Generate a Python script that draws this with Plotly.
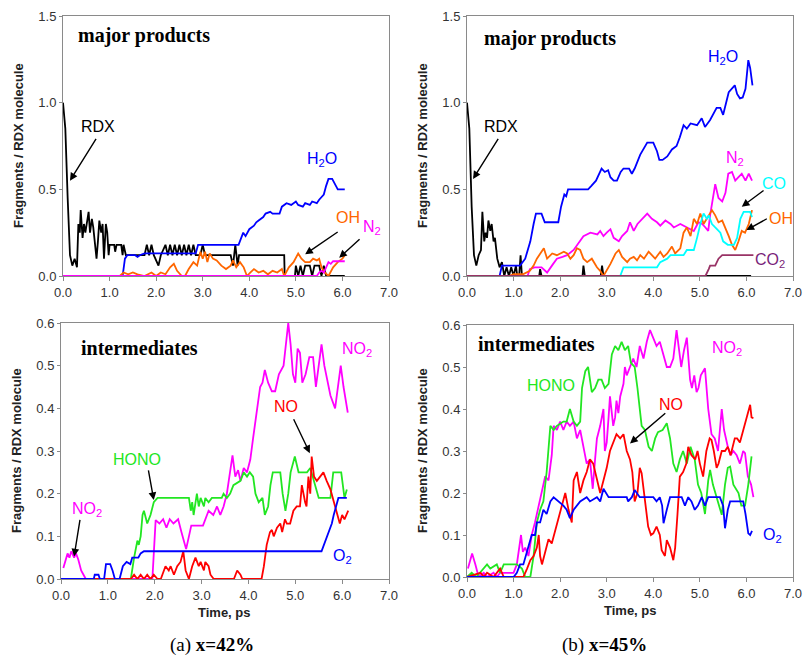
import plotly.graph_objects as go

# ---------------- data: (time ps, fragments / RDX molecule) ----------------
# panel (a) x=42%, major products
a_rdx = [(0,1.0),(0.05,0.85),(0.1,0.45),(0.15,0.12),(0.2,0.06),(0.25,0.1),(0.3,0.05),(0.33,0.3),(0.36,0.25),
         (0.38,0.38),(0.42,0.22),(0.45,0.3),(0.48,0.25),(0.52,0.32),(0.55,0.37),(0.58,0.25),(0.62,0.33),(0.65,0.28),
         (0.7,0.15),(0.72,0.1),(0.75,0.2),(0.78,0.32),(0.82,0.25),(0.85,0.3),(0.88,0.1),(0.92,0.3),(0.95,0.25),
         (0.98,0.12),(1.0,0.18),(1.1,0.18),(1.12,0.14),(1.15,0.18),(1.25,0.18),(1.28,0.12),(1.3,0.18),(1.35,0.12),
         (1.75,0.12),(1.8,0.18),(1.85,0.12),(1.9,0.18),(1.95,0.12),(2.05,0.06),(2.1,0.12),(2.2,0.18),(2.25,0.12),
         (2.3,0.18),(2.35,0.12),(2.4,0.18),(2.45,0.12),(2.5,0.18),(2.55,0.12),(2.6,0.18),(2.65,0.12),(2.7,0.18),
         (2.75,0.12),(2.8,0.18),(2.85,0.12),(2.95,0.12),(3.0,0.18),(3.05,0.12),(3.6,0.12),(3.65,0.06),(3.7,0.18),
         (3.75,0.06),(3.78,0.12),(4.75,0.12),(4.76,0.0),(4.98,0.0),(5.0,0.06),(5.05,0.0),(5.1,0.06),(5.15,0.0),
         (5.2,0.06),(5.3,0.06),(5.35,0.0),(5.4,0.06),(5.5,0.06),(5.55,0.0),(5.6,0.06),(5.65,0.0),(6.05,0.0)]
a_h2o = [(0,0),(1.28,0),(1.33,0.1),(1.38,0.12),(1.55,0.12),(1.6,0.11),(1.65,0.12),(1.75,0.13),(2.85,0.13),(2.9,0.18),
         (3.77,0.18),(3.82,0.22),(3.87,0.25),(3.92,0.23),(4.0,0.27),(4.1,0.29),(4.15,0.31),(4.2,0.32),(4.3,0.34),
         (4.35,0.36),(4.45,0.37),(4.5,0.36),(4.65,0.36),(4.7,0.4),(4.8,0.42),(4.9,0.41),(5.0,0.43),(5.05,0.41),
         (5.15,0.4),(5.2,0.42),(5.3,0.41),(5.35,0.43),(5.45,0.42),(5.5,0.44),(5.6,0.47),(5.65,0.52),(5.7,0.56),
         (5.78,0.56),(5.85,0.52),(5.9,0.5),(6.05,0.5)]
a_oh = [(0,0),(1.22,0),(1.3,0.02),(1.4,0.01),(1.5,0.02),(1.6,0.01),(1.75,0.0),(1.9,0.02),(2.0,0.0),(2.1,0.02),
        (2.2,0.01),(2.3,0.05),(2.38,0.07),(2.45,0.03),(2.55,0.0),(2.62,0.0),(2.7,0.04),(2.8,0.08),(2.88,0.06),
        (2.95,0.14),(3.0,0.1),(3.05,0.14),(3.1,0.08),(3.15,0.13),(3.22,0.1),(3.3,0.09),(3.4,0.06),(3.5,0.04),
        (3.6,0.06),(3.65,0.09),(3.72,0.05),(3.8,0.08),(3.88,0.05),(3.95,0.0),(4.02,0.02),(4.1,0.04),(4.2,0.02),
        (4.3,0.03),(4.4,0.01),(4.5,0.03),(4.6,0.02),(4.7,0.04),(4.75,0.0),(4.85,0.05),(4.95,0.08),(5.05,0.13),
        (5.12,0.1),(5.2,0.08),(5.3,0.08),(5.37,0.1),(5.45,0.09),(5.5,0.1),(5.55,0.05),(5.62,0.02),(5.7,0.0),
        (5.8,0.05),(5.9,0.08),(6.0,0.1),(6.05,0.12)]
a_n2 = [(0,0),(5.45,0),(5.5,0.02),(5.55,0.03),(5.6,0.02),(5.65,0.05),(5.7,0.08),(5.75,0.07),(5.8,0.085),(6.05,0.085)]

# panel (b) x=45%, major products
b_rdx = [(0,1.0),(0.05,0.85),(0.1,0.4),(0.15,0.12),(0.2,0.06),(0.25,0.12),(0.3,0.15),(0.33,0.37),(0.37,0.2),
         (0.4,0.25),(0.43,0.22),(0.46,0.32),(0.5,0.26),(0.53,0.3),(0.57,0.2),(0.6,0.22),(0.65,0.1),(0.7,0.05),
         (0.75,0.08),(0.8,0.0),(0.85,0.05),(0.9,0.0),(0.95,0.05),(1.0,0.0),(1.05,0.06),(1.08,0.0),(1.12,0.0),
         (1.15,0.12),(1.18,0.0),(1.55,0.0),(1.57,0.04),(1.6,0.0),(2.48,0.0),(2.5,0.06),(2.53,0.0),(2.87,0.0),
         (2.9,0.06),(2.93,0.0),(6.1,0.0)]
b_h2o = [(0,0),(0.7,0.0),(0.75,0.06),(1.14,0.06),(1.25,0.1),(1.36,0.2),(1.43,0.3),(1.48,0.36),(1.6,0.36),(1.67,0.31),
         (1.96,0.31),(2.02,0.4),(2.09,0.47),(2.13,0.46),(2.17,0.5),(2.6,0.5),(2.67,0.52),(2.77,0.55),(2.89,0.62),
         (2.96,0.6),(3.03,0.61),(3.08,0.57),(3.15,0.55),(3.22,0.55),(3.3,0.6),(3.36,0.62),(3.48,0.62),(3.54,0.59),
         (3.6,0.62),(3.72,0.7),(3.87,0.77),(4.0,0.77),(4.08,0.72),(4.13,0.67),(4.2,0.67),(4.3,0.69),(4.4,0.73),
         (4.5,0.75),(4.57,0.8),(4.65,0.87),(4.72,0.85),(4.8,0.88),(4.94,0.87),(5.04,0.91),(5.11,0.86),(5.22,0.9),
         (5.36,0.97),(5.44,0.97),(5.5,0.93),(5.62,1.06),(5.75,1.1),(5.8,1.05),(5.86,1.025),(5.92,1.03),(5.98,1.08),
         (6.04,1.245),(6.08,1.2),(6.13,1.1)]
b_n2 = [(0,0),(1.3,0),(1.35,0.04),(1.45,0.05),(1.6,0.05),(1.72,0.02),(1.85,0.07),(1.93,0.1),(2.05,0.11),(2.15,0.12),
        (2.29,0.15),(2.43,0.2),(2.5,0.23),(2.65,0.25),(2.8,0.24),(2.86,0.26),(2.93,0.23),(3.0,0.25),(3.08,0.27),
        (3.15,0.22),(3.26,0.2),(3.33,0.23),(3.44,0.26),(3.5,0.31),(3.58,0.26),(3.66,0.3),(3.76,0.33),(3.87,0.36),
        (3.97,0.33),(4.08,0.31),(4.15,0.29),(4.26,0.32),(4.37,0.3),(4.44,0.28),(4.58,0.3),(4.72,0.28),(4.87,0.26),
        (4.97,0.31),(5.05,0.3),(5.12,0.28),(5.18,0.26),(5.22,0.35),(5.28,0.45),(5.33,0.53),(5.4,0.45),(5.48,0.43),
        (5.55,0.48),(5.61,0.59),(5.69,0.6),(5.76,0.55),(5.83,0.57),(5.9,0.59),(5.98,0.55),(6.05,0.59),(6.12,0.55)]
b_oh = [(0,0),(0.9,0.0),(1.0,0.01),(1.2,0.01),(1.35,0.03),(1.43,0.06),(1.5,0.1),(1.57,0.13),(1.65,0.16),(1.72,0.1),
        (1.83,0.13),(1.93,0.12),(2.08,0.14),(2.15,0.13),(2.22,0.1),(2.29,0.12),(2.36,0.16),(2.43,0.15),(2.5,0.1),
        (2.58,0.08),(2.68,0.1),(2.79,0.05),(2.86,0.03),(2.93,0.0),(3.0,0.03),(3.08,0.07),(3.19,0.13),(3.26,0.15),
        (3.33,0.11),(3.44,0.08),(3.5,0.1),(3.58,0.11),(3.65,0.09),(3.72,0.12),(3.8,0.1),(3.9,0.14),(3.97,0.12),
        (4.04,0.1),(4.15,0.14),(4.22,0.11),(4.3,0.13),(4.4,0.17),(4.47,0.13),(4.58,0.16),(4.65,0.25),(4.72,0.28),
        (4.8,0.23),(4.87,0.33),(4.94,0.3),(5.01,0.36),(5.08,0.3),(5.15,0.33),(5.26,0.38),(5.33,0.35),(5.4,0.31),
        (5.48,0.32),(5.55,0.28),(5.62,0.23),(5.69,0.18),(5.76,0.15),(5.83,0.2),(5.9,0.26),(5.97,0.25),(6.05,0.3),
        (6.12,0.38)]
b_co = [(0,0),(3.29,0),(3.36,0.05),(4.08,0.05),(4.15,0.08),(4.3,0.1),(4.37,0.12),(4.65,0.12),(4.72,0.15),(4.87,0.15),
        (4.94,0.22),(5.01,0.3),(5.08,0.36),(5.15,0.33),(5.19,0.35),(5.26,0.3),(5.33,0.28),(5.44,0.25),(5.5,0.2),
        (5.6,0.18),(5.73,0.18),(5.8,0.22),(5.87,0.33),(5.94,0.37),(6.08,0.37),(6.12,0.34)]
b_co2 = [(0,0),(5.12,0),(5.19,0.04),(5.22,0.06),(5.33,0.06),(5.4,0.1),(5.48,0.12),(6.15,0.12)]

# panel (a) intermediates
a_no2 = [(0.05,0.026),(0.14,0.06),(0.18,0.05),(0.22,0.065),(0.28,0.05),(0.32,0.06),(0.37,0.045),(0.43,0.02),(0.48,0.01),
         (0.53,0.0),(1.95,0.0),(2.02,0.138),(2.1,0.13),(2.18,0.14),(2.25,0.12),(2.32,0.14),(2.4,0.13),(2.5,0.14),
         (2.57,0.11),(2.62,0.09),(2.67,0.07),(2.73,0.1),(2.78,0.125),(3.03,0.125),(3.08,0.14),(3.15,0.16),(3.25,0.15),
         (3.33,0.17),(3.4,0.15),(3.47,0.17),(3.54,0.2),(3.61,0.26),(3.66,0.29),(3.72,0.24),(3.78,0.255),(3.83,0.23),
         (3.9,0.26),(3.97,0.25),(4.04,0.28),(4.1,0.33),(4.18,0.4),(4.25,0.45),(4.3,0.46),(4.35,0.49),(4.42,0.46),
         (4.5,0.44),(4.57,0.44),(4.65,0.48),(4.75,0.5),(4.85,0.6),(4.9,0.55),(4.95,0.48),(5.0,0.46),(5.05,0.54),
         (5.1,0.53),(5.15,0.46),(5.22,0.48),(5.3,0.52),(5.38,0.52),(5.44,0.45),(5.5,0.5),(5.56,0.55),(5.62,0.5),
         (5.68,0.47),(5.75,0.43),(5.85,0.4),(5.91,0.45),(5.97,0.5),(6.03,0.45),(6.12,0.39)]
a_hono = [(0,0),(1.49,0),(1.56,0.05),(1.63,0.09),(1.66,0.08),(1.7,0.1),(1.74,0.15),(1.77,0.16),(1.84,0.13),(1.91,0.15),
          (1.98,0.18),(2.06,0.19),(2.73,0.19),(2.77,0.16),(2.8,0.18),(2.83,0.15),(2.9,0.2),(2.94,0.17),(2.98,0.19),
          (3.05,0.17),(3.08,0.19),(3.15,0.18),(3.22,0.19),(3.43,0.19),(3.47,0.2),(3.54,0.19),(3.61,0.2),(3.68,0.22),
          (3.83,0.23),(3.9,0.25),(3.97,0.24),(4.03,0.25),(4.1,0.24),(4.15,0.2),(4.22,0.18),(4.3,0.19),(4.35,0.15),
          (4.42,0.17),(4.47,0.22),(4.52,0.25),(4.68,0.25),(4.73,0.2),(4.79,0.16),(4.85,0.2),(4.9,0.25),(4.99,0.287),
          (5.07,0.25),(5.25,0.25),(5.32,0.26),(5.42,0.22),(5.5,0.19),(5.75,0.19),(5.81,0.25),(5.98,0.25),(6.02,0.22),
          (6.05,0.19),(6.1,0.21)]
a_no = [(0,0),(1.49,0),(1.56,0.01),(1.63,0.0),(1.7,0.01),(1.77,0.0),(1.84,0.01),(1.91,0.0),(1.98,0.01),(2.06,0.0),
        (2.13,0.0),(2.23,0.03),(2.3,0.02),(2.34,0.03),(2.41,0.01),(2.48,0.03),(2.55,0.04),(2.61,0.065),(2.66,0.02),
        (2.73,0.0),(2.8,0.03),(2.87,0.05),(2.94,0.03),(2.98,0.04),(3.05,0.02),(3.08,0.04),(3.15,0.03),(3.19,0.01),
        (3.26,0.0),(3.69,0.0),(3.76,0.02),(3.83,0.01),(3.87,0.0),(4.28,0.0),(4.33,0.03),(4.39,0.08),(4.46,0.11),
        (4.5,0.115),(4.54,0.1),(4.61,0.12),(4.68,0.13),(4.72,0.11),(4.78,0.14),(4.82,0.13),(4.89,0.13),(4.96,0.16),
        (5.03,0.17),(5.1,0.17),(5.14,0.22),(5.17,0.2),(5.21,0.18),(5.24,0.17),(5.28,0.24),(5.32,0.2),(5.35,0.287),
        (5.4,0.24),(5.46,0.23),(5.53,0.24),(5.6,0.25),(5.67,0.23),(5.75,0.21),(5.85,0.17),(5.95,0.13),(6.0,0.15),
        (6.05,0.14),(6.13,0.16)]
a_o2 = [(0,0),(0.7,0.0),(0.72,0.01),(0.8,0.01),(0.83,0.0),(0.92,0.0),(0.96,0.035),(1.05,0.035),(1.1,0.02),(1.15,0.0),
        (1.25,0.0),(1.32,0.03),(1.4,0.04),(1.48,0.035),(1.52,0.05),(1.65,0.05),(1.7,0.06),(1.77,0.065),(5.56,0.065),
        (5.67,0.1),(5.78,0.13),(5.82,0.15),(5.92,0.19),(6.1,0.19)]

# panel (b) intermediates
b_no2 = [(0.02,0.02),(0.11,0.056),(0.18,0.03),(0.25,0.0),(0.36,0.01),(0.43,0.0),(0.57,0.01),(0.64,0.0),(0.71,0.01),
         (0.93,0.01),(1.0,0.01),(1.07,0.03),(1.11,0.06),(1.16,0.1),(1.2,0.06),(1.25,0.07),(1.32,0.05),(1.39,0.1),
         (1.46,0.13),(1.54,0.17),(1.6,0.2),(1.68,0.24),(1.75,0.23),(1.82,0.29),(1.86,0.36),(1.93,0.35),(2.0,0.37),
         (2.07,0.35),(2.14,0.37),(2.21,0.36),(2.29,0.37),(2.36,0.33),(2.43,0.35),(2.5,0.31),(2.57,0.27),(2.64,0.28),
         (2.7,0.21),(2.75,0.28),(2.79,0.33),(2.86,0.36),(2.93,0.4),(2.96,0.3),(3.0,0.32),(3.04,0.38),(3.07,0.43),
         (3.14,0.36),(3.18,0.38),(3.21,0.42),(3.25,0.39),(3.29,0.43),(3.36,0.46),(3.39,0.5),(3.43,0.48),(3.5,0.5),
         (3.57,0.52),(3.64,0.5),(3.71,0.55),(3.79,0.52),(3.86,0.56),(3.93,0.588),(4.0,0.57),(4.07,0.55),(4.14,0.56),
         (4.21,0.53),(4.29,0.5),(4.36,0.5),(4.43,0.52),(4.5,0.588),(4.55,0.55),(4.6,0.5),(4.66,0.54),(4.72,0.57),
         (4.79,0.47),(4.83,0.45),(4.88,0.48),(4.93,0.44),(4.97,0.45),(5.02,0.48),(5.11,0.497),(5.18,0.4),(5.25,0.34),
         (5.32,0.33),(5.39,0.3),(5.47,0.4),(5.52,0.35),(5.6,0.31),(5.66,0.29),(5.72,0.3),(5.79,0.29),(5.86,0.27),
         (5.93,0.3),(5.97,0.295),(6.03,0.24),(6.1,0.22),(6.15,0.19)]
b_hono = [(0,0),(0.1,0.01),(0.2,0.0),(0.43,0.03),(0.5,0.02),(0.64,0.03),(0.71,0.01),(0.79,0.03),(0.93,0.03),(1.07,0.03),
          (1.18,0.02),(1.25,0.0),(1.36,0.0),(1.43,0.05),(1.5,0.13),(1.57,0.16),(1.64,0.18),(1.71,0.25),(1.79,0.36),
          (1.86,0.35),(1.93,0.36),(2.07,0.37),(2.14,0.37),(2.21,0.4),(2.29,0.37),(2.36,0.36),(2.43,0.37),(2.47,0.45),
          (2.54,0.49),(2.6,0.5),(2.68,0.44),(2.75,0.45),(2.82,0.47),(2.89,0.47),(2.96,0.45),(3.04,0.46),(3.11,0.53),
          (3.18,0.55),(3.25,0.54),(3.32,0.56),(3.39,0.54),(3.46,0.55),(3.52,0.51),(3.6,0.5),(3.66,0.45),(3.75,0.36),
          (3.82,0.35),(3.9,0.31),(3.97,0.3),(4.04,0.33),(4.1,0.345),(4.2,0.35),(4.29,0.366),(4.36,0.33),(4.43,0.27),
          (4.5,0.25),(4.57,0.28),(4.64,0.3),(4.72,0.27),(4.8,0.31),(4.89,0.28),(4.96,0.22),(5.03,0.2),(5.11,0.15),
          (5.18,0.23),(5.22,0.255),(5.28,0.22),(5.33,0.2),(5.4,0.17),(5.47,0.148),(5.54,0.22),(5.6,0.26),(5.65,0.263),
          (5.72,0.22),(5.83,0.2),(5.89,0.17),(5.97,0.17),(6.04,0.22),(6.11,0.287)]
b_no = [(0,0),(0.29,0.01),(0.36,0.0),(0.43,0.01),(0.57,0.0),(0.71,0.02),(0.79,0.0),(1.21,0.0),(1.29,0.02),(1.36,0.04),
        (1.43,0.05),(1.5,0.07),(1.54,0.1),(1.57,0.05),(1.61,0.03),(1.68,0.06),(1.75,0.09),(1.82,0.08),(1.89,0.11),
        (1.96,0.14),(2.04,0.17),(2.11,0.2),(2.18,0.16),(2.25,0.13),(2.29,0.23),(2.36,0.25),(2.43,0.2),(2.5,0.23),
        (2.57,0.25),(2.64,0.28),(2.71,0.27),(2.79,0.23),(2.86,0.2),(2.93,0.23),(3.0,0.26),(3.07,0.3),(3.14,0.32),
        (3.21,0.34),(3.29,0.33),(3.36,0.34),(3.43,0.3),(3.5,0.28),(3.55,0.25),(3.6,0.18),(3.66,0.2),(3.71,0.26),
        (3.75,0.247),(3.8,0.2),(3.86,0.15),(3.89,0.12),(3.95,0.1),(4.0,0.104),(4.07,0.12),(4.14,0.1),(4.18,0.064),
        (4.25,0.05),(4.29,0.088),(4.36,0.07),(4.43,0.04),(4.47,0.07),(4.52,0.15),(4.57,0.239),(4.64,0.25),(4.71,0.27),
        (4.75,0.31),(4.82,0.29),(4.9,0.28),(4.95,0.3),(5.0,0.27),(5.07,0.239),(5.14,0.3),(5.21,0.33),(5.25,0.326),
        (5.3,0.3),(5.36,0.26),(5.4,0.27),(5.47,0.3),(5.54,0.3),(5.6,0.31),(5.66,0.29),(5.75,0.33),(5.8,0.33),
        (5.86,0.32),(5.93,0.35),(6.0,0.38),(6.04,0.4),(6.08,0.41),(6.11,0.38),(6.15,0.378)]
b_o2 = [(0,0),(1.0,0.0),(1.07,0.01),(1.14,0.03),(1.21,0.03),(1.29,0.06),(1.32,0.07),(1.39,0.1),(1.46,0.1),(1.5,0.13),
        (1.57,0.13),(1.64,0.16),(1.71,0.15),(1.79,0.18),(1.86,0.19),(1.96,0.18),(2.07,0.17),(2.14,0.16),(2.21,0.14),
        (2.29,0.16),(2.36,0.17),(2.43,0.18),(2.57,0.19),(2.64,0.18),(2.79,0.19),(2.86,0.18),(2.93,0.21),(3.04,0.19),
        (3.43,0.19),(3.46,0.18),(3.54,0.19),(3.6,0.207),(3.71,0.19),(4.0,0.19),(4.07,0.18),(4.14,0.19),(4.19,0.17),
        (4.22,0.128),(4.29,0.16),(4.36,0.19),(4.61,0.19),(4.68,0.17),(4.75,0.19),(4.82,0.18),(4.89,0.16),(4.96,0.17),
        (5.04,0.19),(5.11,0.17),(5.18,0.19),(5.43,0.19),(5.5,0.17),(5.54,0.116),(5.6,0.16),(5.65,0.18),(5.93,0.18),
        (5.98,0.15),(6.04,0.104),(6.08,0.1),(6.12,0.11)]

x_ticks = [0, 1, 2, 3, 4, 5, 6, 7]
top_y_ticks = [0, 0.5, 1.0, 1.5]
bot_y_ticks = [0, 0.1, 0.2, 0.3, 0.4, 0.5, 0.6]

# ---------------- styling ----------------
BLUE, MAG, ORA, GRN, RED, CYA, BLK, PLUM = "#0000FF", "#FF00FF", "#FF6600", "#22E622", "#FF0000", "#00FFFF", "#000000", "#993366"
SANS = "Liberation Sans, Arial, sans-serif"
SERIF = "Liberation Serif, Times New Roman, serif"
W, H = 804, 663

fig = go.Figure()

def add(series, color, ax):
    t = [p[0] for p in series]
    v = [p[1] for p in series]
    fig.add_trace(go.Scatter(x=t, y=v, mode="lines", line=dict(color=color, width=1.8),
                             xaxis="x" + ax, yaxis="y" + ax, showlegend=False, hoverinfo="skip"))

for s, c in [(a_rdx, BLK), (a_h2o, BLUE), (a_oh, ORA), (a_n2, MAG)]:
    add(s, c, "1")
for s, c in [(b_rdx, BLK), (b_h2o, BLUE), (b_n2, MAG), (b_oh, ORA), (b_co, CYA), (b_co2, PLUM)]:
    add(s, c, "2")
for s, c in [(a_no2, MAG), (a_hono, GRN), (a_no, RED), (a_o2, BLUE)]:
    add(s, c, "3")
for s, c in [(b_no2, MAG), (b_hono, GRN), (b_no, RED), (b_o2, BLUE)]:
    add(s, c, "4")

# plot areas in pixels (left, right, top, bottom)
boxes = {"1": (63, 389, 16, 276), "2": (467, 793, 16, 276), "3": (61, 389, 323, 579), "4": (467, 793, 325, 577)}

axcommon = dict(showline=True, mirror=True, linecolor="#8a8a8a", linewidth=1, showgrid=False, zeroline=False,
                automargin=False, ticks="outside", tickcolor="#8a8a8a",
                tickfont=dict(family=SANS, size=13, color="#333333"))
layout = {}
ann = []
for k, (l, r, t, b) in boxes.items():
    xa = "xaxis" if k == "1" else "xaxis" + k
    ya = "yaxis" if k == "1" else "yaxis" + k
    top = k in ("1", "2")
    layout[xa] = dict(axcommon, domain=[l / W, r / W], range=[0, 7], tickvals=x_ticks, tickformat=".1f",
                      ticklen=4, anchor="y" + k)
    layout[ya] = dict(axcommon, domain=[1 - b / H, 1 - t / H], range=[0, 1.5] if top else [0, 0.6],
                      tickvals=top_y_ticks if top else bot_y_ticks, tickformat=".1f", ticklen=3, anchor="x" + k)
    # axis titles
    ann.append(dict(xref="paper", yref="paper", x=(l - 45) / W, y=1 - (t + b) / 2 / H, textangle=-90,
                    text="<b>Fragments / RDX molecule</b>", showarrow=False, xanchor="center", yanchor="middle",
                    font=dict(family=SANS, size=13, color="#222222")))
    if not top:
        ann.append(dict(xref="paper", yref="paper", x=(l + r) / 2 / W, y=1 - (b + 33) / H,
                        text="<b>Time, ps</b>", showarrow=False, xanchor="center", yanchor="middle",
                        font=dict(family=SANS, size=13, color="#222222")))

fig.update_layout(width=W, height=H, margin=dict(l=0, r=0, t=0, b=0, autoexpand=False), plot_bgcolor="white",
                  paper_bgcolor="white", **layout)


def label(ax, x, y, text, color, size=16, font=SANS, anchor="center"):
    ann.append(dict(xref="x" + ax if ax != "1" else "x", yref="y" + ax if ax != "1" else "y", x=x, y=y,
                    text=text, showarrow=False, xanchor=anchor, yanchor="middle",
                    font=dict(family=font, size=size, color=color)))

def arrow(ax, tail, head):
    xr = "x" + ax if ax != "1" else "x"
    yr = "y" + ax if ax != "1" else "y"
    ann.append(dict(xref=xr, yref=yr, axref=xr, ayref=yr, x=head[0], y=head[1], ax=tail[0], ay=tail[1], text="",
                    showarrow=True, arrowhead=2, arrowsize=1.1, arrowwidth=1.4, arrowcolor="black", standoff=0))

# panel a major
label("1", 0.28, 1.385, "<b>major products</b>", "black", 20, SERIF, "left")
label("1", 0.75, 0.865, "RDX", "black")
arrow("1", (0.73, 0.80), (0.15, 0.55))
label("1", 5.57, 0.67, "H<sub>2</sub>O", BLUE)
label("1", 6.12, 0.335, "OH", ORA)
arrow("1", (5.93, 0.26), (5.2, 0.125))
label("1", 6.64, 0.28, "N<sub>2</sub>", MAG)
arrow("1", (6.4, 0.22), (5.93, 0.105))
# panel b major
label("2", 0.32, 1.373, "<b>major products</b>", "black", 20, SERIF, "left")
label("2", 0.73, 0.865, "RDX", "black")
arrow("2", (0.69, 0.80), (0.13, 0.56))
label("2", 5.5, 1.26, "H<sub>2</sub>O", BLUE)
label("2", 5.75, 0.68, "N<sub>2</sub>", MAG)
label("2", 6.6, 0.535, "CO", CYA)
arrow("2", (6.4, 0.50), (5.9, 0.40))
label("2", 6.74, 0.333, "OH", ORA)
arrow("2", (6.47, 0.335), (6.0, 0.265))
label("2", 6.5, 0.09, "CO<sub>2</sub>", "#7A1F7A")
# panel a intermediates
label("3", 0.38, 0.541, "<b>intermediates</b>", "black", 20, SERIF, "left")
label("3", 0.55, 0.162, "NO<sub>2</sub>", MAG)
arrow("3", (0.41, 0.142), (0.28, 0.053))
label("3", 1.62, 0.28, "HONO", GRN)
arrow("3", (1.86, 0.258), (1.98, 0.185))
label("3", 4.8, 0.405, "NO", RED)
arrow("3", (4.95, 0.378), (5.31, 0.295))
label("3", 6.32, 0.537, "NO<sub>2</sub>", MAG)
label("3", 6.0, 0.052, "O<sub>2</sub>", BLUE)
# panel b intermediates
label("4", 0.19, 0.554, "<b>intermediates</b>", "black", 20, SERIF, "left")
label("4", 1.81, 0.455, "HONO", GRN)
label("4", 5.58, 0.545, "NO<sub>2</sub>", MAG)
label("4", 4.39, 0.41, "NO", RED)
arrow("4", (4.29, 0.393), (3.5, 0.318))
label("4", 6.56, 0.1, "O<sub>2</sub>", BLUE)

# captions
ann.append(dict(xref="paper", yref="paper", x=212 / W, y=1 - 645 / H, text="(a) <b>x=42%</b>", showarrow=False,
                xanchor="center", yanchor="middle", font=dict(family=SERIF, size=19, color="black")))
ann.append(dict(xref="paper", yref="paper", x=604 / W, y=1 - 645 / H, text="(b) <b>x=45%</b>", showarrow=False,
                xanchor="center", yanchor="middle", font=dict(family=SERIF, size=19, color="black")))

fig.update_layout(annotations=ann)
fig.write_html("out.html")
